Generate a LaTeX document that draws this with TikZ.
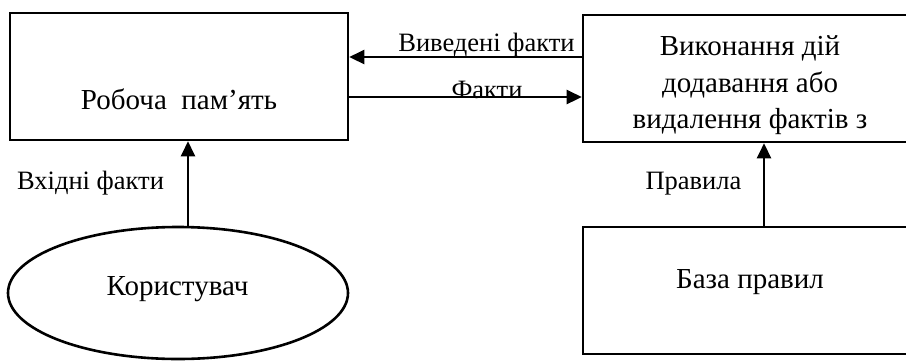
\documentclass[tikz,border=0pt]{standalone}
\usepackage{fontspec}
\setmainfont{Liberation Serif}
\usetikzlibrary{shapes.geometric,arrows.meta}
\begin{document}
\begin{tikzpicture}[x=1pt,y=-1pt,
  block/.style={draw, line width=2.6pt, inner sep=0pt, rectangle},
  oval/.style={draw, line width=2.6pt, inner sep=0pt, ellipse},
  txt/.style={inner sep=0pt, anchor=base, font=\fontsize{26.5}{30}\selectfont},
  boxtxt/.style={txt, font=\fontsize{29}{33}\selectfont},
  arr/.style={line width=2.6pt, -{Triangle[length=15pt,width=14pt]}}]
  \useasboundingbox (0,0) rectangle (906,360);
  \clip (0,0) rectangle (906,360);

  % blocks
  \node[block, minimum width=338pt, minimum height=127pt] (memory) at (179,76.5) {};
  \node[block, minimum width=334pt, minimum height=127pt] (action) at (750,78.5) {};
  \node[block, minimum width=334pt, minimum height=127pt] (rules) at (750,290.5) {};
  \node[oval, minimum width=340pt, minimum height=132pt] (user) at (178,293) {};

  % block texts
  \node[boxtxt] (memtext) at (179,109) {Робоча~ пам’ять};
  \node[boxtxt] (act1) at (750,55) {Виконання дій};
  \node[boxtxt] (act2) at (750,92) {додавання або};
  \node[boxtxt] (act3) at (750,128) {видалення фактів з};
  \node[boxtxt] (rulestext) at (750,288) {База правил};
  \node[boxtxt] (usertext) at (177.5,295) {Користувач};

  % connector levels
  \coordinate (yout) at (0,57);
  \coordinate (yin) at (0,97);
  \coordinate (xuser) at (188,0);
  \coordinate (xrules) at (764,0);

  % connectors
  \draw[arr] (action.west |- yout) -- (memory.east |- yout);
  \draw[arr] (memory.east |- yin) -- (action.west |- yin);
  \draw[arr] (user.north -| xuser) -- (memory.south -| xuser);
  \draw[arr] (rules.north -| xrules) -- (action.south -| xrules);

  % connector labels
  \node[txt] (lblout) at (486.5,51) {Виведені факти};
  \node[txt] (lblin) at (487,98) {Факти};
  \node[txt] (lbluser) at (90.5,189) {Вхідні факти};
  \node[txt] (lblrules) at (693.5,189) {Правила};
\end{tikzpicture}
\end{document}
